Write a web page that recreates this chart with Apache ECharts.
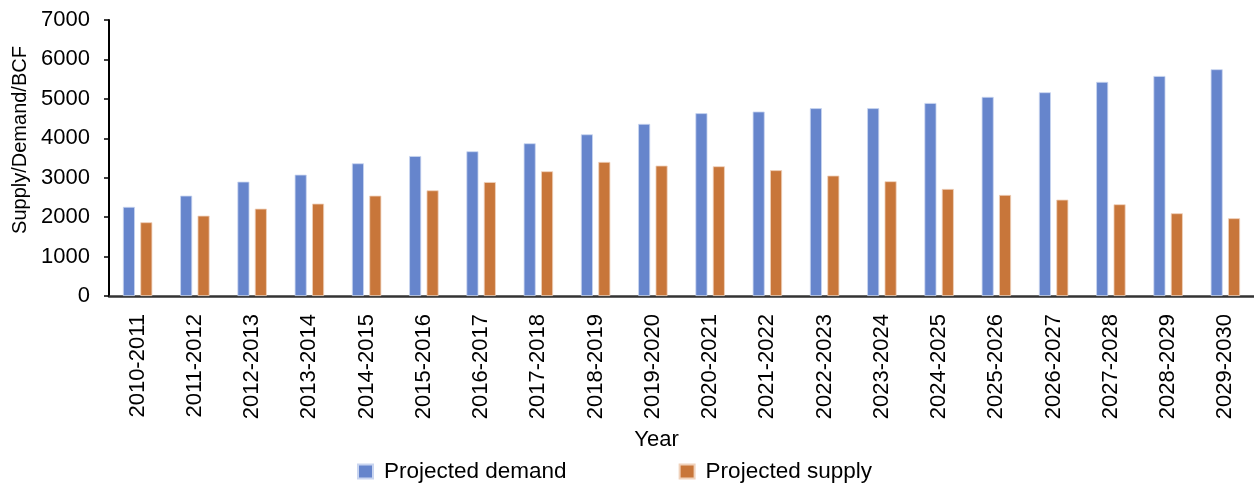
<!DOCTYPE html>
<html>
<head>
<meta charset="utf-8">
<script src="https://cdn.jsdelivr.net/npm/echarts@6/dist/echarts.min.js"></script>
<style>html,body{margin:0;padding:0;background:#fff;}#c{width:1254px;height:483px;}</style>
</head>
<body>
<div id="c"></div>
<script>
const categories = ["2010-2011","2011-2012","2012-2013","2013-2014","2014-2015","2015-2016","2016-2017","2017-2018","2018-2019","2019-2020","2020-2021","2021-2022","2022-2023","2023-2024","2024-2025","2025-2026","2026-2027","2027-2028","2028-2029","2029-2030"];
const projectedDemand = [2260,2545,2900,3077,3365,3550,3670,3873,4100,4365,4636,4678,4763,4763,4895,5050,5167,5430,5580,5750];
const projectedSupply = [1870,2037,2215,2343,2545,2680,2890,3163,3400,3307,3290,3190,3054,2910,2715,2563,2444,2326,2098,1972];
const yTicks = {min:0, max:7000, interval:1000};

const font = 'Liberation Sans, Arial, sans-serif';
const chart = echarts.init(document.getElementById('c'), null, {renderer:'canvas'});
chart.setOption({
  animation:false,
  backgroundColor:'#fff',
  grid:{left:109, right:0, top:20, bottom:187, containLabel:false},
  legend:{
    left:352, top:455, itemWidth:15, itemHeight:14, itemGap:112,
    icon:'rect',
    textStyle:{fontFamily:font, fontSize:22.5, color:'#000', padding:[0,0,0,6]},
    data:['Projected demand','Projected supply']
  },
  xAxis:{
    type:'category', data:categories,
    name:'Year', nameLocation:'middle', nameGap:133,
    nameTextStyle:{fontFamily:font, fontSize:22, color:'#000', padding:[0,50,0,0]},
    axisLine:{lineStyle:{color:'#333', width:2.5}},
    axisTick:{show:false},
    axisLabel:{rotate:90, interval:0, margin:18, fontFamily:font, fontSize:22, color:'#000'}
  },
  yAxis:{
    type:'value', min:yTicks.min, max:yTicks.max, interval:yTicks.interval,
    name:'Supply/Demand/BCF', nameLocation:'middle', nameGap:77, nameRotate:90,
    nameTextStyle:{fontFamily:font, fontSize:20, color:'#000', padding:[0,0,0,36]},
    axisLine:{show:true, lineStyle:{color:'#000', width:2}},
    axisTick:{show:true, length:5, lineStyle:{color:'#000', width:1.5}},
    axisLabel:{margin:19, fontFamily:font, fontSize:22, color:'#000', formatter:function(v){return String(v);}},
    splitLine:{show:false}
  },
  series:[
    {name:'Projected demand', type:'bar', data:projectedDemand, barWidth:12, barGap:'45%',
     itemStyle:{color:'#6685CC', borderColor:'#C9D5F0', borderWidth:0.8}},
    {name:'Projected supply', type:'bar', data:projectedSupply, barWidth:12,
     itemStyle:{color:'#C8763A', borderColor:'#F0D2BC', borderWidth:0.8}}
  ]
});
</script>
</body>
</html>
